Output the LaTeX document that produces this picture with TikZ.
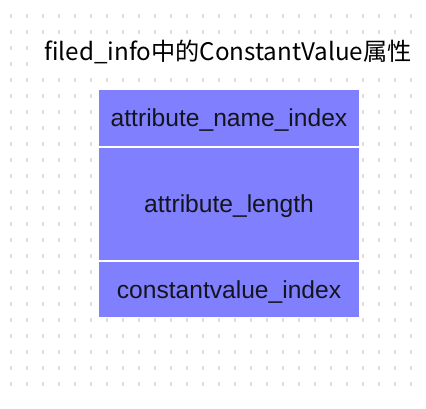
\documentclass[tikz,border=0pt]{standalone}
\usepackage{fontspec}
\setmainfont{Liberation Sans}
\newfontfamily\cjk{Noto Sans CJK SC}
\usetikzlibrary{positioning}
\definecolor{fieldblue}{RGB}{128,128,255}
\definecolor{gridgray}{RGB}{222,222,222}
\definecolor{textdark}{RGB}{20,20,30}
\tikzset{
  titlebox/.style={fill=white,inner xsep=6pt,minimum height=32pt,
    font=\cjk\fontsize{24.2}{28}\selectfont},
  fieldbox/.style={draw=white,line width=1pt,fill=fieldblue,minimum width=261pt,
    text depth=0pt,align=center,text=textdark,font=\fontsize{24.6}{28}\selectfont},
  griddot/.style={fill=gridgray},
}
\begin{document}
\begin{tikzpicture}[x=1pt,y=-1pt]
  \useasboundingbox (0,0) rectangle (426,408);
  \foreach \i in {0,...,25}
    \foreach \j in {0,...,23}
      \fill[griddot] (10+16*\i,14+16*\j) rectangle ++(1.5,4);
  \node[titlebox] (title) at (228,52) {filed\_info中的ConstantValue属性};
  \node[fieldbox,minimum height=56.4pt] (nameidx) at (229,118) {attribute\_name\_index};
  \node[fieldbox,minimum height=113.3pt,below=0pt of nameidx] (attrlen) {attribute\_length};
  \node[fieldbox,minimum height=55.7pt,below=0pt of attrlen] (constidx) {constantvalue\_index};
\end{tikzpicture}
\end{document}
